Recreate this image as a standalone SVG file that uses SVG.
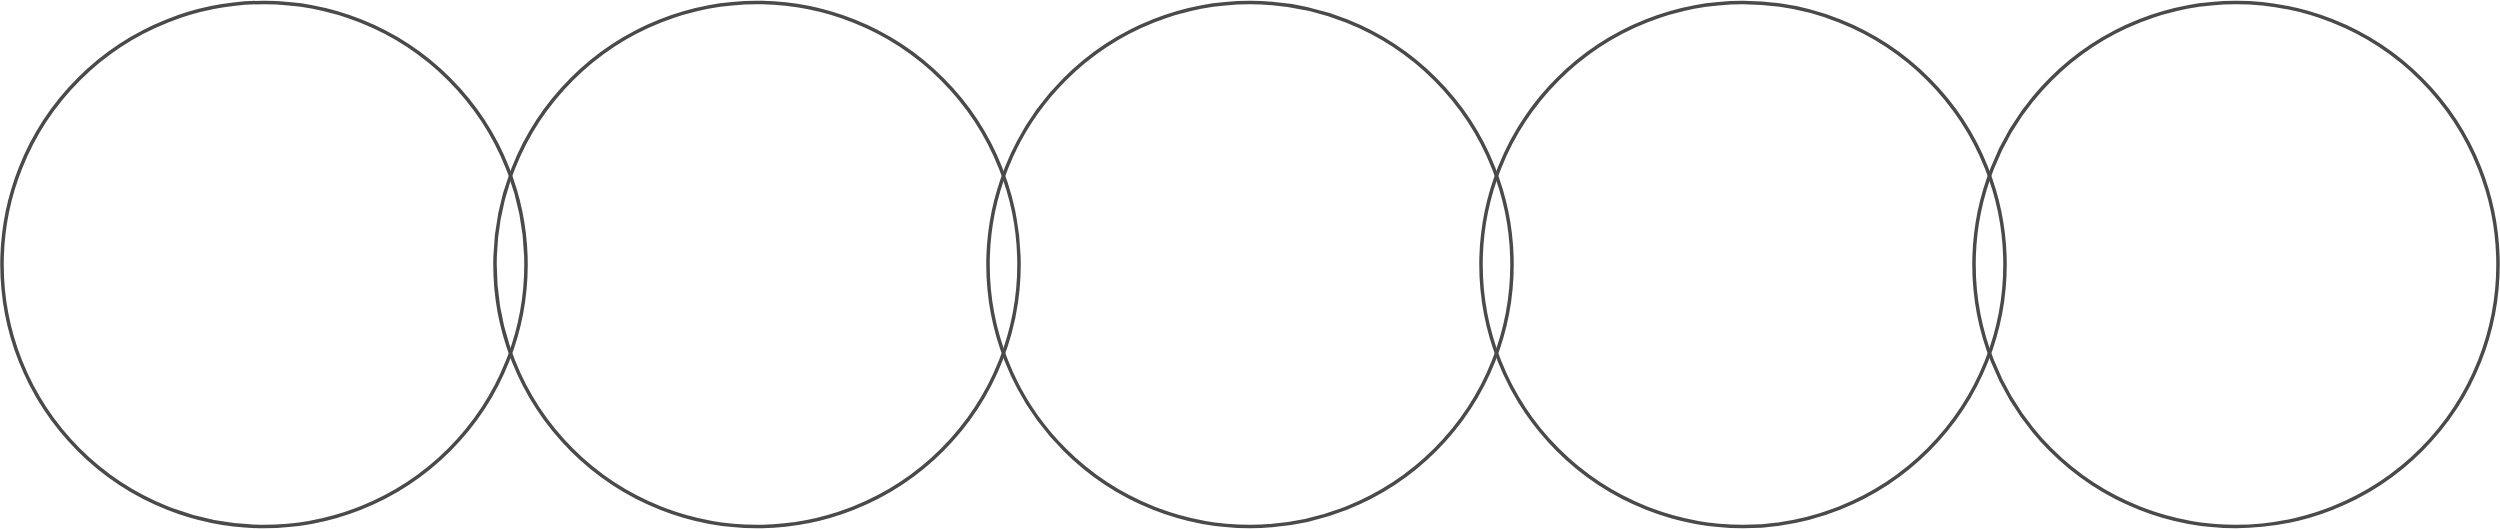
<svg xmlns="http://www.w3.org/2000/svg" width="2500" height="529" viewBox="0 0 2500 529">
<style>
.c{fill:none;stroke:#4a4a4a;stroke-width:3.5}
</style>
<rect width="2500" height="529" fill="#ffffff"/>
<g id="circle1"><circle class="c" cx="264" cy="264.5" r="262"/></g>
<g id="circle2"><circle class="c" cx="757" cy="264.5" r="262"/></g>
<g id="circle3"><circle class="c" cx="1250" cy="264.5" r="262"/></g>
<g id="circle4"><circle class="c" cx="1743" cy="264.5" r="262"/></g>
<g id="circle5"><circle class="c" cx="2236" cy="264.5" r="262"/></g>
<g id="connectors"></g>
</svg>
